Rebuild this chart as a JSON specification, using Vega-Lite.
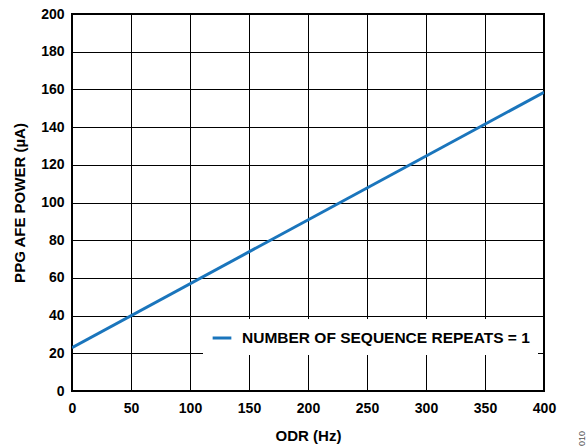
{
  "$schema": "https://vega.github.io/schema/vega-lite/v6.json",
  "width": 472,
  "height": 377,
  "autosize": "none",
  "padding": {"left": 72, "top": 14, "right": 43, "bottom": 57},
  "background": "white",
  "title": {"text": "010", "orient": "right", "anchor": "end", "angle": 270, "baseline": "bottom", "fontSize": 9, "fontWeight": "normal", "font": "Liberation Sans", "color": "#555555", "offset": 22, "dx": 12},
  "data": {"values": [
    {"odr": 0, "power": 23.0, "series": "NUMBER OF SEQUENCE REPEATS = 1"},
    {"odr": 400, "power": 158.5, "series": "NUMBER OF SEQUENCE REPEATS = 1"}
  ]},
  "mark": {"type": "line", "strokeWidth": 3, "clip": true},
  "encoding": {
    "x": {"field": "odr", "type": "quantitative", "scale": {"domain": [0, 400], "nice": false},
      "axis": {"title": "ODR (Hz)", "values": [0, 50, 100, 150, 200, 250, 300, 350, 400], "titlePadding": 13, "labelFlush": false}},
    "y": {"field": "power", "type": "quantitative", "scale": {"domain": [0, 200], "nice": false},
      "axis": {"title": "PPG AFE POWER (µA)", "values": [0, 20, 40, 60, 80, 100, 120, 140, 160, 180, 200], "titlePadding": 13, "labelFlush": false}},
    "color": {"field": "series", "type": "nominal", "scale": {"range": ["#1a75bc"]},
      "legend": {"title": null, "orient": "none", "legendX": 131, "legendY": 305, "fillColor": "white", "padding": 8,
        "symbolType": "stroke", "symbolStrokeWidth": 3, "symbolSize": 350, "labelFontSize": 15.5, "labelFont": "Liberation Sans", "labelFontWeight": "bold", "labelColor": "black", "labelLimit": 400, "labelOffset": 9}}
  },
  "config": {
    "view": {"stroke": "black", "strokeWidth": 2},
    "axis": {
      "grid": true, "gridColor": "black", "gridWidth": 1, "gridOpacity": 1,
      "domain": false, "ticks": false,
      "labelFont": "Liberation Sans", "labelFontSize": 14, "labelFontWeight": "bold", "labelColor": "black",
      "titleFont": "Liberation Sans", "titleFontSize": 15, "titleFontWeight": "bold", "titleColor": "black",
      "labelPadding": 8
    },
    "axisX": {"labelPadding": 10}
  }
}
